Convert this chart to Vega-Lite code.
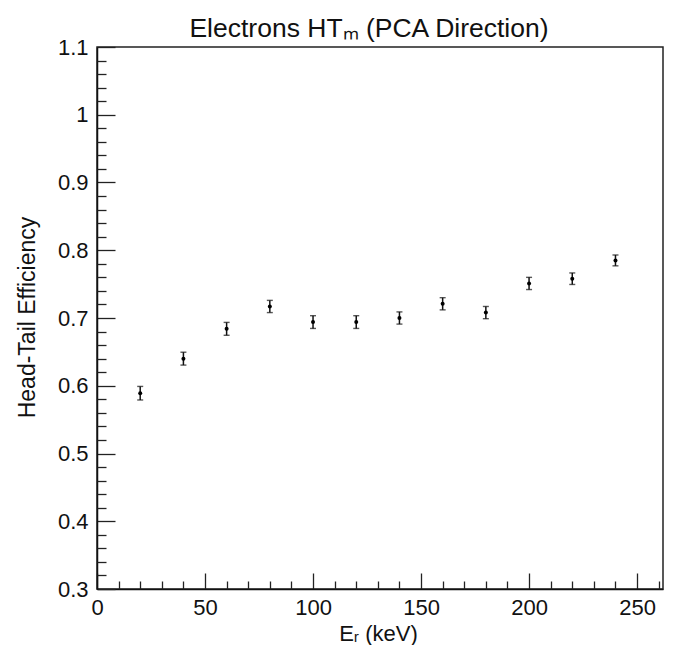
{
  "$schema": "https://vega.github.io/schema/vega-lite/v6.json",
  "width": 566,
  "height": 542,
  "autosize": "none",
  "padding": {"left": 97, "top": 47, "right": 15, "bottom": 56},
  "background": "white",
  "title": {
    "text": "Electrons HTₘ (PCA Direction)",
    "font": "Liberation Sans",
    "fontSize": 26.5,
    "fontWeight": "normal",
    "color": "#111",
    "anchor": "middle",
    "frame": "group",
    "baseline": "alphabetic",
    "offset": 9,
    "dx": -11,
    "dy": 36
  },
  "config": {
    "view": {"stroke": "#222", "strokeWidth": 1.5},
    "axis": {
      "labelFont": "Liberation Sans",
      "labelFontSize": 22,
      "labelColor": "#111",
      "titleFont": "Liberation Sans",
      "titleFontSize": 22,
      "titleFontWeight": "normal",
      "titleColor": "#111",
      "domainColor": "#111",
      "domainWidth": 1.5,
      "tickColor": "#222",
      "tickWidth": 1.3,
      "grid": false
    }
  },
  "data": {
    "values": [
      {"E": 20, "eff": 0.589, "lo": 0.579, "hi": 0.599},
      {"E": 40, "eff": 0.640, "lo": 0.6305, "hi": 0.6495},
      {"E": 60, "eff": 0.684, "lo": 0.6745, "hi": 0.6935},
      {"E": 80, "eff": 0.717, "lo": 0.708, "hi": 0.726},
      {"E": 100, "eff": 0.694, "lo": 0.6846, "hi": 0.7034},
      {"E": 120, "eff": 0.694, "lo": 0.6846, "hi": 0.7034},
      {"E": 140, "eff": 0.700, "lo": 0.691, "hi": 0.709},
      {"E": 160, "eff": 0.721, "lo": 0.712, "hi": 0.730},
      {"E": 180, "eff": 0.708, "lo": 0.699, "hi": 0.717},
      {"E": 200, "eff": 0.751, "lo": 0.742, "hi": 0.760},
      {"E": 220, "eff": 0.758, "lo": 0.7495, "hi": 0.7665},
      {"E": 240, "eff": 0.785, "lo": 0.777, "hi": 0.793}
    ]
  },
  "resolve": {"axis": {"x": "independent", "y": "independent"}},
  "layer": [
    {
      "mark": {"type": "rule", "color": "#111", "strokeWidth": 1.5},
      "encoding": {
        "x": {
          "field": "E", "type": "quantitative",
          "scale": {"domain": [0, 262], "nice": false, "zero": false},
          "axis": {
            "orient": "bottom",
            "values": [0, 50, 100, 150, 200, 250],
            "format": "d",
            "tickSize": -16,
            "labelPadding": 24,
            "labelFlush": false,
            "labelOverlap": false,
            "title": "Eᵣ (keV)",
            "titleX": 281,
            "titleY": 51,
            "titleBaseline": "alphabetic",
            "titleAnchor": "middle"
          }
        },
        "y": {
          "field": "lo", "type": "quantitative",
          "scale": {"domain": [0.3, 1.1], "nice": false, "zero": false},
          "axis": {
            "orient": "left",
            "values": [0.3, 0.4, 0.5, 0.6, 0.7, 0.8, 0.9, 1.0, 1.1],
            "format": "~g",
            "tickSize": -18,
            "labelPadding": 27,
            "labelFlush": false,
            "labelOverlap": false,
            "title": "Head-Tail Efficiency",
            "titleFontSize": 23,
            "titleX": -63,
            "titleY": 270,
            "titleAngle": -90,
            "titleBaseline": "alphabetic",
            "titleAnchor": "middle",
            "titleAlign": "center"
          }
        },
        "y2": {"field": "hi"}
      }
    },
    {
      "mark": {"type": "tick", "orient": "horizontal", "size": 6, "thickness": 1.4, "color": "#111"},
      "encoding": {
        "x": {"field": "E", "type": "quantitative", "axis": null},
        "y": {"field": "lo", "type": "quantitative", "axis": null}
      }
    },
    {
      "mark": {"type": "tick", "orient": "horizontal", "size": 6, "thickness": 1.4, "color": "#111"},
      "encoding": {
        "x": {"field": "E", "type": "quantitative", "axis": null},
        "y": {"field": "hi", "type": "quantitative", "axis": null}
      }
    },
    {
      "mark": {"type": "point", "filled": true, "size": 16, "color": "#000", "opacity": 1},
      "encoding": {
        "x": {
          "field": "E", "type": "quantitative",
          "axis": {
            "orient": "bottom",
            "values": [10, 20, 30, 40, 60, 70, 80, 90, 110, 120, 130, 140, 160, 170, 180, 190, 210, 220, 230, 240, 260],
            "tickSize": -8,
            "labels": false,
            "domain": false,
            "title": null
          }
        },
        "y": {
          "field": "eff", "type": "quantitative",
          "axis": {
            "orient": "left",
            "values": [0.32, 0.34, 0.36, 0.38, 0.42, 0.44, 0.46, 0.48, 0.52, 0.54, 0.56, 0.58, 0.62, 0.64, 0.66, 0.68, 0.72, 0.74, 0.76, 0.78, 0.82, 0.84, 0.86, 0.88, 0.92, 0.94, 0.96, 0.98, 1.02, 1.04, 1.06, 1.08],
            "tickSize": -9,
            "labels": false,
            "domain": false,
            "title": null
          }
        }
      }
    }
  ]
}
